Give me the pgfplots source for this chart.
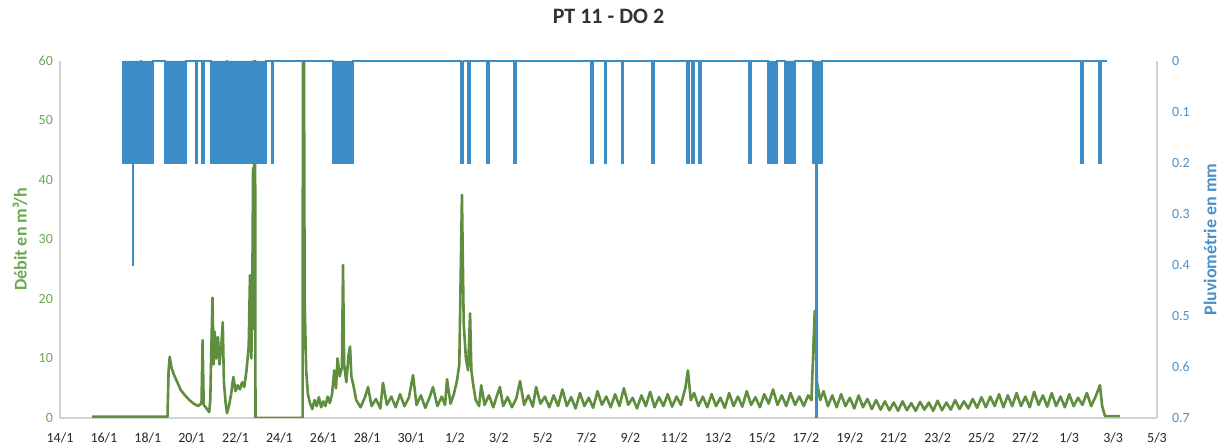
\documentclass[border=0pt]{standalone}
\usepackage{fontspec}
\setmainfont{Carlito}
\usepackage{pgfplots}
\pgfplotsset{compat=1.18}
\definecolor{flow}{RGB}{94,142,62}
\definecolor{flowlab}{RGB}{106,168,79}
\definecolor{rain}{RGB}{60,141,197}
\definecolor{rainlab}{RGB}{74,144,200}
\definecolor{axgray}{RGB}{210,210,210}
\definecolor{titlegray}{RGB}{51,51,51}
\begin{document}
\begin{tikzpicture}
\pgfplotsset{
  common/.style={width=548.5pt, height=178.5pt, scale only axis,
    xmin=0, xmax=50, clip=true,
    tick style={draw=none},
    /pgf/number format/assume math mode=true,
    ticklabel style={font=\fontsize{7}{8}\selectfont},
    axis line style={axgray,-, line width=0.6pt}}
}
\begin{axis}[common, name=ax1,
  ymin=0, ymax=60, ytick={0,10,20,30,40,50,60},
  axis x line*=bottom, axis y line*=left,
  xtick={0,2,...,50},
  xticklabels={14/1,16/1,18/1,20/1,22/1,24/1,26/1,28/1,30/1,1/2,3/2,5/2,7/2,9/2,11/2,13/2,15/2,17/2,19/2,21/2,23/2,25/2,27/2,1/3,3/3,5/3},
  xticklabel style={black!85, yshift=-4pt},
  yticklabel style={flowlab},
  ylabel={\textbf{Débit en m³/h}},
  ylabel style={flowlab, font=\fontsize{9}{10}\selectfont, at={(axis description cs:0,0.5)}, anchor=center, yshift=20pt},
  title={\textbf{PT 11 - DO 2}},
  title style={titlegray, font=\fontsize{11}{13}\selectfont, at={(axis description cs:0.5,1)}, anchor=center, yshift=16.5pt},
]
\addplot[flow, line width=1.3pt, line join=round] coordinates {
(1.46,0.2) (4.9,0.2) (4.95,8) (5.0,10.3) (5.08,8.5) (5.2,7.2) (5.35,6.0) (5.5,4.7) (5.7,3.8) (5.9,3.0) (6.1,2.4) (6.3,2.0) (6.45,2.5) (6.5,13.1) (6.55,2.2) (6.7,1.5) (6.8,1.0) (6.85,3) (6.9,12) (6.95,20.2) (7.0,9) (7.05,14.5) (7.12,10) (7.2,13.6) (7.27,9) (7.35,12) (7.42,16.1) (7.47,6) (7.55,2.5) (7.61,0.8) (7.7,2) (7.8,4) (7.9,6.9) (8.0,4.5) (8.1,5.5) (8.2,4.8) (8.3,6) (8.4,5.2) (8.5,8) (8.6,12) (8.66,24) (8.72,10) (8.76,18) (8.80,42) (8.84,15) (8.87,120) (8.91,0) (11.06,0) (11.08,120) (11.15,20) (11.22,8) (11.3,4)
(11.39,2.5) (11.5,1.5) (11.6,3) (11.7,2) (11.8,3.5) (11.9,1.8) (12.0,2.8) (12.1,2) (12.2,3.6) (12.3,2.5) (12.4,4)
(12.5,8) (12.58,5) (12.65,10) (12.75,7) (12.85,8.5) (12.9,25.7) (12.95,9) (13.05,6) (13.15,10.5) (13.22,12) (13.28,7) (13.4,5)
(13.5,3.0) (13.7,1.8) (13.9,3.5) (14.04,5.2) (14.2,2.0) (14.4,3.2) (14.6,1.6) (14.72,5.9) (14.9,2.2) (15.1,3.6) (15.3,1.8) (15.5,4.0) (15.7,2.0) (15.9,3.4) (16.09,7.2) (16.25,2.2) (16.45,3.8) (16.65,1.7) (16.85,3.5) (17.0,5.2) (17.2,2.0) (17.4,3.6) (17.55,2.2) (17.64,6.5) (17.8,2.4) (17.95,4.0) (18.09,6.2) (18.2,9) (18.32,37.5) (18.4,16) (18.5,10) (18.6,8) (18.69,17.6) (18.75,8) (18.82,5.9) (18.95,3.0)
(19.1,2.0) (19.2,5.5) (19.35,2.2) (19.55,3.8) (19.75,1.8) (19.9,3.6) (20.05,5.2) (20.2,2.0) (20.4,3.5) (20.6,1.8) (20.8,3.3) (20.97,6.2) (21.15,2.2) (21.35,3.8) (21.55,1.9) (21.7,5.2) (21.9,2.4) (22.1,3.6) (22.3,1.8) (22.5,3.8) (22.7,2.0) (22.9,4.8) (23.1,2.0) (23.3,3.5) (23.5,1.6) (23.7,4.2) (23.9,2.0) (24.1,3.4) (24.3,1.7) (24.5,4.5) (24.7,2.2) (24.9,3.6) (25.1,1.8) (25.3,4.0) (25.5,2.0) (25.7,5.0) (25.9,2.2) (26.1,3.4) (26.3,1.6) (26.5,3.8) (26.7,2.0) (26.9,4.4) (27.1,1.8) (27.3,3.5) (27.5,2.0) (27.7,4.0) (27.9,1.9) (28.1,3.6) (28.3,2.2) (28.5,5.0) (28.62,8.0) (28.75,3.0) (28.9,4.2)
(29.1,2.0) (29.3,3.6) (29.5,1.8) (29.7,4.0) (29.9,2.0) (30.1,3.4) (30.3,1.7) (30.5,4.2) (30.7,2.0) (30.9,3.6) (31.1,1.9) (31.3,4.5) (31.5,2.2) (31.7,3.5) (31.9,1.8) (32.1,4.0) (32.3,2.4) (32.5,4.8) (32.7,2.2) (32.9,3.8) (33.1,2.0) (33.3,4.2) (33.5,2.2) (33.7,3.6) (33.9,2.0) (34.1,3.8) (34.25,3.0) (34.4,18) (34.5,6) (34.65,3.0) (34.8,4.5)
(35.0,2.0) (35.2,3.8) (35.4,1.8) (35.6,4.0) (35.8,2.0) (36.0,3.4) (36.2,1.6) (36.4,3.8) (36.6,1.8) (36.8,3.2) (37.0,1.5) (37.2,3.0) (37.4,1.4) (37.6,2.8) (37.8,1.3) (38.0,2.6) (38.2,1.2) (38.4,2.8) (38.6,1.3) (38.8,2.5) (39.0,1.2) (39.2,2.7) (39.4,1.4) (39.6,2.6) (39.8,1.2) (40.0,2.9) (40.2,1.3) (40.4,2.6) (40.6,1.4) (40.8,3.0) (41.0,1.5) (41.2,2.8) (41.4,1.6) (41.6,3.2) (41.8,1.7) (42.0,3.5) (42.2,1.8) (42.4,3.6) (42.6,2.0) (42.8,4.0) (43.0,1.8) (43.2,3.8) (43.4,2.0) (43.6,4.2) (43.8,2.0) (44.0,3.6) (44.2,1.8) (44.4,4.4) (44.6,2.2) (44.8,3.8) (45.0,1.9) (45.2,4.2) (45.4,2.0) (45.6,3.6) (45.8,1.8) (46.0,4.0) (46.2,2.0) (46.4,3.4) (46.6,2.2) (46.8,4.2) (47.0,2.0) (47.2,3.6) (47.4,5.5) (47.5,2.0) (47.63,0.3) (48.31,0.3)
};
\end{axis}
\begin{axis}[common, at={(ax1.south west)}, anchor=south west,
  ymin=0, ymax=0.7, y dir=reverse,
  ytick={0,0.1,0.2,0.3,0.4,0.5,0.6,0.7},
  axis x line=none, axis y line*=right,
  yticklabel style={rainlab, xshift=4pt, /pgf/number format/fixed, /pgf/number format/precision=1},
  ylabel={\textbf{Pluviométrie en mm}},
  ylabel style={rainlab, font=\fontsize{9}{10}\selectfont, at={(axis description cs:1,0.5)}, anchor=center, yshift=-26.5pt},
]
\addplot[const plot, draw=rain, fill=rain, line width=0.7pt] coordinates {
(2.87,0) (2.87,0.2) (3.30,0.4) (3.36,0.2) (3.67,0) (3.71,0.2) (4.24,0) (4.79,0.2) (5.74,0) (6.17,0.2) (6.25,0) (6.48,0.2) (6.56,0) (6.88,0.2) (7.58,0) (7.64,0.2) (9.39,0) (9.63,0.2) (9.70,0) (12.44,0.2) (13.35,0) (18.28,0.2) (18.38,0) (18.6,0.2) (18.68,0) (19.47,0.2) (19.55,0) (20.7,0.2) (20.78,0) (24.21,0.2) (24.29,0) (24.84,0.2) (24.92,0) (25.58,0.2) (25.66,0) (26.99,0.2) (27.07,0) (28.58,0.2) (28.66,0) (28.81,0.2) (28.89,0) (29.13,0.2) (29.21,0) (31.41,0.2) (31.49,0) (32.27,0.2) (32.68,0) (33.04,0.2) (33.5,0) (34.32,0.2) (34.45,0.8) (34.52,0.2) (34.73,0) (46.54,0.2) (46.62,0) (47.36,0.2) (47.44,0) (47.72,0)
};
\end{axis}
\pgfresetboundingbox
\path ([shift={(-30pt,-13.5pt)}]ax1.south west) rectangle ([shift={(31.5pt,30.5pt)}]ax1.north east);
\end{tikzpicture}
\end{document}
